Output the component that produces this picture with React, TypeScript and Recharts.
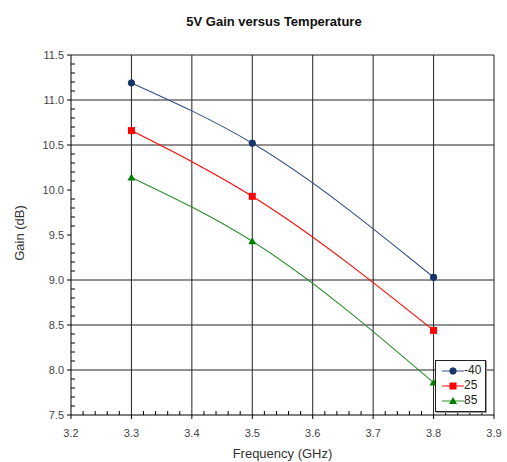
import React from "react";
import { CartesianGrid, Legend, Line, LineChart, ReferenceLine, XAxis, YAxis } from "recharts";

// measured points (GHz)
const freqs = [3.3, 3.5, 3.8];
const gainMinus40 = [11.19, 10.52, 9.03];
const gain25 = [10.66, 9.93, 8.44];
const gain85 = [10.14, 9.43, 7.86];

const xMajorTicks = [3.2, 3.3, 3.4, 3.5, 3.6, 3.7, 3.8, 3.9];
const yMajorTicks = [7.5, 8.0, 8.5, 9.0, 9.5, 10.0, 10.5, 11.0, 11.5];
// the source plot has no lines at 9.5 and 10.0
const yGridLines = [8.0, 8.5, 9.0, 10.5, 11.0, 11.5];
const xGridLines = [3.3, 3.4, 3.5, 3.6, 3.7, 3.8, 3.9];

const seriesNames = ["-40", "25", "85"];
const seriesColors = ["#2f4f80", "#ff0000", "#2e8b2e"];
const markerColors = ["#16366b", "#ff0000", "#008000"];

const data = freqs.map((f, i) => ({
  freq: f,
  m40: gainMinus40[i],
  t25: gain25[i],
  t85: gain85[i]
}));

const minorSteps = (from: number, to: number, step: number) => {
  const out: number[] = [];
  const n = Math.round((to - from) / step);
  for (let i = 0; i <= n; i++) out.push(Math.round((from + i * step) * 1000) / 1000);
  return out;
};
const xTicks = minorSteps(3.2, 3.9, 0.02);
const yTicks = minorSteps(7.5, 11.5, 0.1);

const isMajor = (v: number, majors: number[]) => majors.some((m) => Math.abs(m - v) < 1e-6);

const FONT = "'Liberation Sans', Arial, sans-serif";

function XTick({ x, y, payload }: any) {
  const v = payload.value as number;
  if (isMajor(v, xMajorTicks)) {
    return (
      <g>
        <line x1={x} x2={x} y1={y} y2={y + 4} stroke="#000" />
        <text x={x} y={y + 22} textAnchor="middle" fontSize={11} fill="#444" fontFamily={FONT}>
          {v.toFixed(1)}
        </text>
      </g>
    );
  }
  return <line x1={x} x2={x} y1={y} y2={y - 4} stroke="#000" />;
}

function YTick({ x, y, payload }: any) {
  const v = payload.value as number;
  if (isMajor(v, yMajorTicks)) {
    return (
      <g>
        <line x1={x - 4} x2={x} y1={y} y2={y} stroke="#000" />
        <text x={x - 7} y={y + 4} textAnchor="end" fontSize={11} fill="#444" fontFamily={FONT}>
          {v.toFixed(1)}
        </text>
      </g>
    );
  }
  return <line x1={x} x2={x + 4} y1={y} y2={y} stroke="#000" />;
}

function Marker({ shape, color, cx, cy }: { shape: number; color: string; cx: number; cy: number }) {
  if (cx == null || cy == null) return null;
  if (shape === 0) return <circle cx={cx} cy={cy} r={3.2} fill={color} stroke={color} />;
  if (shape === 1) return <rect x={cx - 3.5} y={cy - 3.5} width={7} height={7} fill={color} />;
  return <polygon points={`${cx},${cy - 4} ${cx + 4},${cy + 3} ${cx - 4},${cy + 3}`} fill={color} />;
}

function LegendBox() {
  return (
    <div
      style={{
        border: "1px solid #222",
        boxShadow: "1px 1px 0 #999",
        background: "#fff",
        padding: "2px 4px 3px 6px",
        fontFamily: FONT,
        fontSize: 12,
        color: "#222",
        lineHeight: "15px"
      }}
    >
      {seriesNames.map((name, i) => (
        <div key={name} style={{ display: "flex", alignItems: "center" }}>
          <svg width={22} height={12}>
            <line x1={0} x2={22} y1={6} y2={6} stroke={seriesColors[i]} />
            <Marker shape={i} color={markerColors[i]} cx={11} cy={6} />
          </svg>
          <span>{name}</span>
        </div>
      ))}
    </div>
  );
}

const seriesKeys = ["m40", "t25", "t85"];

export default function App() {
  return (
    <div style={{ position: "absolute", left: 0, top: 0, width: 507, height: 462, background: "#fff" }}>
      <div
        style={{
          position: "absolute",
          top: 14,
          left: 0,
          width: 548,
          textAlign: "center",
          fontFamily: FONT,
          fontWeight: 700,
          fontSize: 13,
          color: "#111"
        }}
      >
        5V Gain versus Temperature
      </div>
      <div
        style={{
          position: "absolute",
          left: 19,
          top: 233,
          transform: "translate(-50%, -50%) rotate(-90deg)",
          fontFamily: FONT,
          fontSize: 13,
          color: "#333",
          whiteSpace: "nowrap"
        }}
      >
        Gain (dB)
      </div>
      <LineChart width={507} height={462} data={data} margin={{ top: 55, right: 13, left: 0, bottom: 0 }}>
        <CartesianGrid horizontal={false} vertical={false} />
        {xGridLines.map((v) => (
          <ReferenceLine key={"x" + v} x={v} stroke="#222" strokeWidth={1} />
        ))}
        {yGridLines.map((v) => (
          <ReferenceLine key={"y" + v} y={v} stroke="#222" strokeWidth={1} />
        ))}
        <XAxis
          dataKey="freq"
          type="number"
          domain={[3.2, 3.9]}
          ticks={xTicks}
          interval={0}
          height={47}
          tickSize={0}
          tickMargin={0}
          tickLine={false}
          tick={<XTick />}
          axisLine={{ stroke: "#000" }}
          label={{ value: "Frequency (GHz)", position: "insideBottom", offset: 4, fontSize: 13, fill: "#333", fontFamily: FONT }}
        />
        <YAxis
          type="number"
          domain={[7.5, 11.5]}
          ticks={yTicks}
          interval={0}
          width={71}
          tickSize={0}
          tickMargin={0}
          tickLine={false}
          tick={<YTick />}
          axisLine={{ stroke: "#000" }}
        />
        {seriesKeys.map((key, i) => (
          <Line
            key={key}
            dataKey={key}
            name={seriesNames[i]}
            type="monotone"
            stroke={seriesColors[i]}
            strokeWidth={1.1}
            dot={(p: any) => <Marker key={key + p.index} shape={i} color={markerColors[i]} cx={p.cx} cy={p.cy} />}
            activeDot={false}
            isAnimationActive={false}
          />
        ))}
        <Legend
          layout="vertical"
          align="center"
          verticalAlign="middle"
          content={() => <LegendBox />}
          wrapperStyle={{ left: 435, top: 360, width: "auto" }}
        />
      </LineChart>
    </div>
  );
}
